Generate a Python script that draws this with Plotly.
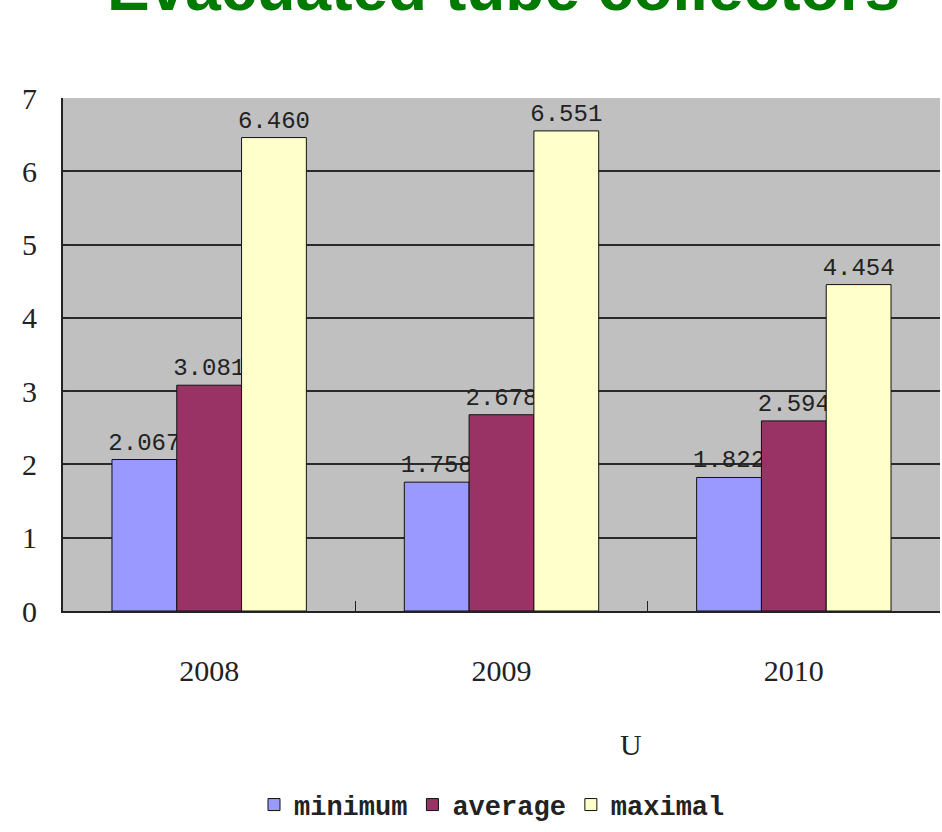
import plotly.graph_objects as go

years = ["2008", "2009", "2010"]
minimum = [2.067, 1.758, 1.822]
average = [3.081, 2.678, 2.594]
maximal = [6.460, 6.551, 4.454]
series_names = ["minimum", "average", "maximal"]
series_colors = ["#9999FF", "#993366", "#FFFFCC"]
y_ticks = [0, 1, 2, 3, 4, 5, 6, 7]

W, H = 942, 832
L, R, T, B = 63, 2, 98, 221
plot_h = H - T - B
plot_w = W - L - R

fig = go.Figure()
for name, vals, col in zip(series_names, [minimum, average, maximal], series_colors):
    fig.add_trace(go.Bar(
        name=name, x=years, y=vals,
        marker=dict(color=col, line=dict(color="#111111", width=1)),
        text=[f"{v:.3f}" for v in vals],
        textposition="outside",
        constraintext="none",
        cliponaxis=False,
        textfont=dict(family="Liberation Mono", size=24, color="#222222"),
    ))


def py(pix):
    # pixel row -> paper y
    return (H - B - pix) / plot_h


def px(pix):
    return (pix - L) / plot_w


fig.add_annotation(
    text="<b>Evacuated tube collectors</b>", xref="paper", yref="paper",
    x=px(503), y=py(26), xanchor="center", yanchor="bottom", showarrow=False,
    font=dict(family="Liberation Sans", size=64, color="#007A00"),
)
fig.add_annotation(
    text="U", xref="paper", yref="paper", x=px(631), y=py(745),
    xanchor="center", yanchor="middle", showarrow=False,
    font=dict(family="Liberation Serif", size=30, color="#222222"),
)

fig.update_layout(
    width=W, height=H,
    margin=dict(l=L, r=R, t=T, b=B),
    paper_bgcolor="white", plot_bgcolor="#C0C0C0",
    barmode="group", bargap=0.335, bargroupgap=0,
    showlegend=True,
    legend=dict(
        orientation="h", xanchor="center", yanchor="middle",
        x=px(492), y=py(805), itemwidth=30,
        font=dict(family="Liberation Mono", size=27, color="#222222", weight="bold"),
        bgcolor="rgba(0,0,0,0)", traceorder="normal",
    ),
    xaxis=dict(
        type="category", showgrid=False, showline=True, linecolor="#222222", linewidth=2,
        ticks="inside", tickson="boundaries", ticklen=10, tickcolor="#222222", tickwidth=1,
        ticklabelstandoff=32,
        tickfont=dict(family="Liberation Serif", size=30, color="#222222"),
    ),
    yaxis=dict(
        range=[0, 7], tickvals=y_ticks, showgrid=True, gridcolor="#2a2a2a", gridwidth=2,
        showline=True, linecolor="#222222", linewidth=2, zeroline=False,
        ticks="inside", ticklen=5, tickcolor="#222222",
        ticklabelstandoff=18,
        tickfont=dict(family="Liberation Serif", size=30, color="#222222"),
    ),
)

fig.write_html("out.html")
